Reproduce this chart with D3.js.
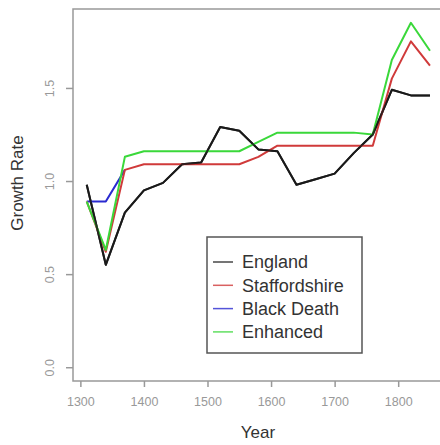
<!DOCTYPE html>
<html>
<head>
<meta charset="utf-8">
<script src="https://cdn.jsdelivr.net/npm/d3@7"></script>
<style>
  body { margin: 0; background: #fff; }
  svg { font-family: "Liberation Sans", Arial, sans-serif; }
</style>
</head>
<body>
<div id="container"></div>
<script>
let w = 440;
let h = 445;

let years = [1310, 1340, 1370, 1400, 1430, 1460, 1490, 1520, 1550, 1580, 1610, 1640, 1670, 1700, 1730, 1760, 1790, 1820, 1850];
let england = [0.98, 0.55, 0.83, 0.95, 0.99, 1.09, 1.10, 1.29, 1.27, 1.17, 1.16, 0.98, 1.01, 1.04, 1.15, 1.25, 1.49, 1.46, 1.46];
let staffordshire = [0.89, 0.62, 1.06, 1.09, 1.09, 1.09, 1.09, 1.09, 1.09, 1.13, 1.19, 1.19, 1.19, 1.19, 1.19, 1.19, 1.55, 1.75, 1.62];
let blackDeathYears = [1310, 1340, 1370];
let blackDeath = [0.89, 0.89, 1.06];
let enhanced = [0.89, 0.63, 1.13, 1.16, 1.16, 1.16, 1.16, 1.16, 1.16, 1.21, 1.26, 1.26, 1.26, 1.26, 1.26, 1.25, 1.65, 1.85, 1.70];

let xTicks = [1300, 1400, 1500, 1600, 1700, 1800];
let yTicks = [0, 0.5, 1.0, 1.5];
let legendNames = ["England", "Staffordshire", "Black Death", "Enhanced"];
let colors = ["#1a1a1a", "#d03a3a", "#2a2ad0", "#3ad83a"];

let viz = d3.select("#container")
  .append("svg")
  .attr("width", w)
  .attr("height", h);

// plot region (right edge falls just outside the picture)
let pLeft = 73, pTop = 9, pBottom = 381, pRight = 443.7;

let xScale = d3.scaleLinear().domain([1288.4, 1871.6]).range([pLeft, pRight]);
let yScale = d3.scaleLinear().domain([-0.074, 1.924]).range([pBottom, pTop]);

// box
viz.append("rect")
  .attr("x", pLeft).attr("y", pTop)
  .attr("width", pRight - pLeft).attr("height", pBottom - pTop)
  .attr("fill", "none").attr("stroke", "#999").attr("stroke-width", 1.5);

let xAxis = d3.axisBottom(xScale).tickValues(xTicks).tickFormat(d3.format("d")).tickSize(6).tickPadding(10);
let xAxisGroup = viz.append("g").attr("transform", "translate(0," + pBottom + ")").call(xAxis);

let yAxis = d3.axisLeft(yScale).tickValues(yTicks).tickFormat(d3.format(".1f")).tickSize(7).tickPadding(0);
let yAxisGroup = viz.append("g").attr("transform", "translate(" + pLeft + ",0)").call(yAxis);

[xAxisGroup, yAxisGroup].forEach(function (g) {
  g.select(".domain").remove();
  g.selectAll(".tick line").attr("stroke", "#999").attr("stroke-width", 1.5);
  g.selectAll(".tick text").attr("fill", "#999").attr("font-size", 12.5);
});

yAxisGroup.selectAll(".tick text")
  .attr("x", 0).attr("dy", 0)
  .attr("text-anchor", "middle")
  .attr("transform", "translate(-19,0) rotate(-90)");

// axis titles
viz.append("text")
  .attr("x", 258).attr("y", 438)
  .attr("text-anchor", "middle")
  .attr("font-size", 17).attr("fill", "#333")
  .text("Year");

viz.append("text")
  .attr("transform", "translate(23,183) rotate(-90)")
  .attr("text-anchor", "middle")
  .attr("font-size", 17).attr("fill", "#333")
  .text("Growth Rate");

// lines
let line = d3.line()
  .x(function (d) { return xScale(d[0]); })
  .y(function (d) { return yScale(d[1]); });

let seriesList = [
  { yrs: years, vals: england, color: colors[0] },
  { yrs: blackDeathYears, vals: blackDeath, color: colors[2] },
  { yrs: years, vals: staffordshire, color: colors[1] },
  { yrs: years, vals: enhanced, color: colors[3] }
];

seriesList.forEach(function (s) {
  viz.append("path")
    .datum(d3.zip(s.yrs, s.vals))
    .attr("d", line)
    .attr("fill", "none")
    .attr("stroke", s.color)
    .attr("stroke-width", 2)
    .attr("stroke-linejoin", "round");
});

// black line drawn on top where it crosses
viz.append("path")
  .datum(d3.zip(years, england))
  .attr("d", line)
  .attr("fill", "none")
  .attr("stroke", colors[0])
  .attr("stroke-width", 2)
  .attr("stroke-linejoin", "round")
  .attr("opacity", 0.85);

// legend
let legend = viz.append("g");
legend.append("rect")
  .attr("x", 207).attr("y", 237)
  .attr("width", 155).attr("height", 116)
  .attr("fill", "#fff").attr("stroke", "#555").attr("stroke-width", 1.5);

legendNames.forEach(function (name, i) {
  let yy = 262 + i * 23.3;
  legend.append("line")
    .attr("x1", 213).attr("x2", 233)
    .attr("y1", yy).attr("y2", yy)
    .attr("stroke", colors[i]).attr("stroke-width", 1.5).attr("opacity", 0.8);
  legend.append("text")
    .attr("x", 242).attr("y", yy)
    .attr("dy", "0.35em")
    .attr("font-size", 18).attr("fill", "#333")
    .text(name);
});
</script>
</body>
</html>
